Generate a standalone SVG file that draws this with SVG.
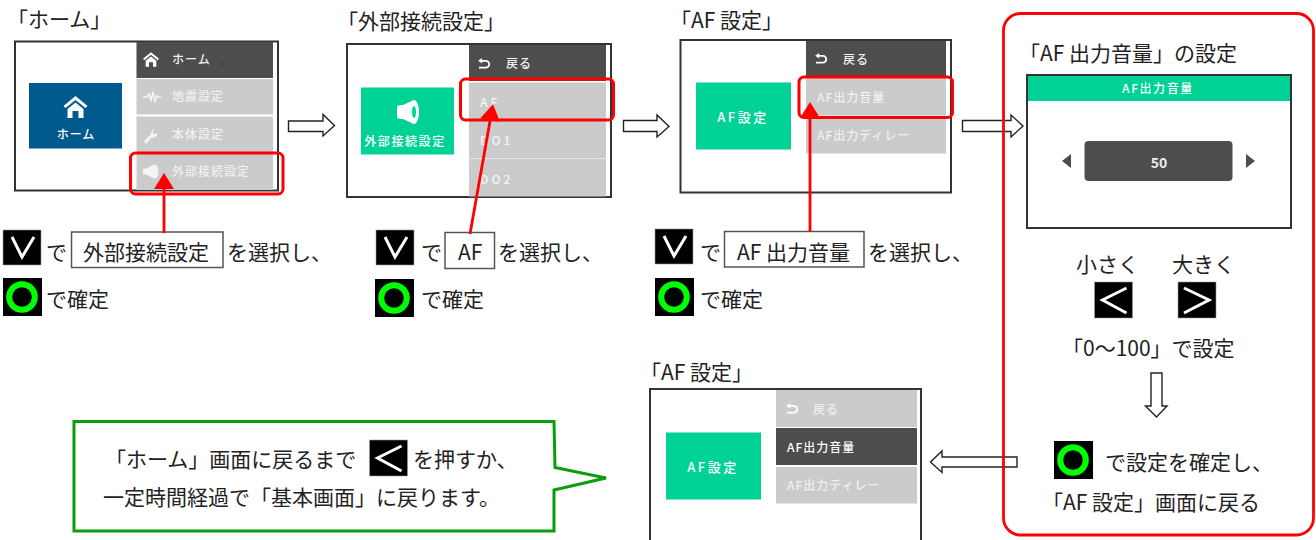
<svg xmlns="http://www.w3.org/2000/svg" width="1316" height="540" viewBox="0 0 1316 540">
<style>
text{font-family:"Noto Sans CJK JP","Noto Sans",sans-serif}
.t{font-size:21px;fill:#222}
.m{font-size:12px;letter-spacing:1px;fill:#f0f0f0;font-weight:500}
.ml{font-size:12px;letter-spacing:3px;fill:#f4f4f4;font-weight:500}
.big{font-size:13px;letter-spacing:2.500px;font-weight:500}
.c{text-anchor:middle;fill:#fff}
.scr{fill:#fff;stroke:#333;stroke-width:2}
.dk{fill:#4d4d4d}
.gr{fill:#cbcbcb}
.gn{fill:#00d296}
.sel{fill:none;stroke:#f00;stroke-width:3}
.box{fill:#fff;stroke:#555;stroke-width:1.500}
.hollow{fill:#fff;stroke:#222;stroke-width:1.400}
.red{stroke:#f00;stroke-width:2.800;fill:none}
.ch{fill:none;stroke:#fff;stroke-width:3}
</style>
<defs>
<marker id="rh" markerUnits="userSpaceOnUse" markerWidth="20" markerHeight="20" viewBox="0 0 16 20" refX="0" refY="10" orient="auto"><path d="M0 0L16 10L0 20z" fill="#f00"/></marker>
<symbol id="home" viewBox="0 0 24 22" overflow="visible"><path d="M12 0L0 10l2 2L12 4l10 8 2-2z"/><path d="M4 13L12 6.500 20 13v9h-5v-7H9v7H4z"/></symbol>
<symbol id="back" viewBox="0 0 14 12" overflow="visible"><path d="M1 10.500h7.500a3.700 3.700 0 0 0 0-7.400H3" fill="none" stroke="#fff" stroke-width="2"/><path d="M4.500 0v6L0 3z" fill="#fff"/></symbol>
<g id="kv"><rect width="38" height="35" fill="#000" stroke="#999" stroke-width=".6"/><path class="ch" d="M9 7L19 27 31 7"/></g>
<g id="kl"><rect width="38" height="36" fill="#000" stroke="#999" stroke-width=".6"/><path class="ch" d="M32 6L8 18 32 31"/></g>
<g id="kr"><rect width="38" height="36" fill="#000" stroke="#999" stroke-width=".6"/><path class="ch" d="M6 6L31 18 6 31"/></g>
<g id="ko"><rect width="39" height="38" fill="#000"/><circle cx="19" cy="19" r="12.800" fill="none" stroke="#0f0" stroke-width="6"/></g>
</defs>

<g id="screen-home">
<text class="t" x="7" y="27">「ホーム」</text>
<rect class="scr" x="15" y="41.500" width="263" height="149"/>
<rect class="dk" x="136.500" y="42" width="136.500" height="36"/>
<rect class="gr" x="136.500" y="79" width="136.500" height="35.500"/>
<rect class="gr" x="136.500" y="116.500" width="136.500" height="35.500"/>
<rect class="gr" x="136.500" y="154" width="136.500" height="36"/>
<rect x="29" y="83" width="93" height="65.500" fill="#005a8e"/>
<use href="#home" x="63" y="96" width="25" height="22" fill="#fff"/>
<text class="m c" x="76" y="139">ホーム</text>
<use href="#home" x="143" y="52" width="16" height="15" fill="#fff"/>
<text class="m" x="172" y="64">ホーム</text>
<text class="m" x="221" y="65" style="fill:#333">.</text>
<path d="M143 97h4l2-3 2 6 2-8 2 9 2-5 1 1h3" fill="none" stroke="#f4f4f4" stroke-width="1.600"/>
<text class="m" x="172" y="101">地震設定</text>
<path d="M144 139l7-7a5 5 0 0 1 2-4.500l2-.5-2.500 3 1.500 2.500 3.500-2a5 5 0 0 1-6 5l-5.500 6.500z" fill="#f4f4f4" transform="translate(0 2)"/>
<text class="m" x="172" y="139">本体設定</text>
<path d="M143 168.500h3l8-4v14l-8-4h-3z" fill="#f4f4f4"/><ellipse cx="155" cy="171.500" rx="3.500" ry="7" fill="#f4f4f4"/>
<text class="m" x="172" y="176">外部接続設定</text>
<rect class="sel" x="130.500" y="153" width="152.500" height="41" rx="5"/>
<use href="#kv" x="3" y="230"/>
<text class="t" x="46" y="260">で</text>
<rect class="box" x="71.500" y="232" width="151.500" height="35.500"/>
<text class="t" x="83" y="260">外部接続設定</text>
<text class="t" x="227" y="260">を選択し、</text>
<use href="#ko" x="3" y="278"/>
<text class="t" x="46" y="307">で確定</text>
</g>

<g id="screen-ext">
<text class="t" x="337" y="29">「外部接続設定」</text>
<rect class="scr" x="347" y="44" width="264" height="153"/>
<rect class="dk" x="469" y="45" width="137" height="36"/>
<rect class="gr" x="469" y="82.500" width="137" height="114"/>
<path d="M469 120.500h137M469 158.500h137" stroke="#e6e6e6" stroke-width="1"/>
<rect class="gn" x="361" y="87.500" width="93" height="67"/>
<path d="M397 108c0-2 1-3 3-3h3l11-5v24l-11-5h-3c-2 0-3-1-3-3z" fill="#fff"/><ellipse cx="414" cy="112" rx="5" ry="12" fill="#fff"/><ellipse cx="414" cy="112" rx="2" ry="6" fill="#00d296"/>
<text class="m c" x="405" y="146" style="letter-spacing:1.600px">外部接続設定</text>
<use href="#back" x="478" y="58" width="13" height="11"/>
<text class="m" x="506" y="68">戻る</text>
<text class="ml" x="480" y="107">AF</text>
<text class="ml" x="480" y="145">DO1</text>
<text class="ml" x="480" y="184">DO2</text>
<rect class="sel" x="460.500" y="79" width="153" height="41" rx="5"/>
<use href="#kv" x="376" y="230"/>
<text class="t" x="421" y="260">で</text>
<rect class="box" x="445" y="232.500" width="49.500" height="36"/>
<text class="t" x="458" y="260">AF</text>
<text class="t" x="498" y="260">を選択し、</text>
<use href="#ko" x="375" y="279"/>
<text class="t" x="421" y="307">で確定</text>
</g>

<g id="screen-af">
<text class="t" x="670" y="28">「AF 設定」</text>
<rect class="scr" x="680.500" y="40" width="270.500" height="152.500"/>
<rect class="dk" x="806" y="41" width="140" height="35.500"/>
<rect class="gr" x="806" y="78" width="140" height="37.500"/>
<rect class="gr" x="806" y="118.500" width="140" height="35"/>
<rect class="gn" x="696" y="82.500" width="95" height="67"/>
<text class="big c" x="743" y="122">AF設定</text>
<use href="#back" x="815" y="53" width="13" height="11"/>
<text class="m" x="843" y="64">戻る</text>
<text class="m" x="817" y="102">AF出力音量</text>
<text class="m" x="817" y="140">AF出力ディレー</text>
<rect class="sel" x="799" y="77" width="153.500" height="40.500" rx="5"/>
<use href="#kv" x="655" y="229"/>
<text class="t" x="700" y="260">で</text>
<rect class="box" x="724.500" y="231.500" width="139.500" height="35.500"/>
<text class="t" x="737" y="260">AF 出力音量</text>
<text class="t" x="868" y="260">を選択し、</text>
<use href="#ko" x="655" y="278"/>
<text class="t" x="700" y="307">で確定</text>
</g>

<g id="connectors">
<line class="red" x1="164" y1="233" x2="164" y2="189" marker-end="url(#rh)"/>
<line class="red" x1="470" y1="234" x2="490.200" y2="120" marker-end="url(#rh)"/>
<line class="red" x1="810" y1="232" x2="810" y2="118" marker-end="url(#rh)"/>
<polygon class="hollow" points="288.500,121 323,121 323,114.500 334.500,125.500 323,136 323,131.500 288.500,131.500"/>
<polygon class="hollow" points="623.500,120.500 657,120.500 657,115 669,126.500 657,137 657,131.500 623.500,131.500"/>
<polygon class="hollow" points="962.500,120.500 1011,120.500 1011,115 1023,126 1011,137 1011,131.500 962.500,131.500"/>
<polygon class="hollow" points="1151,373 1162,373 1162,406 1167,406 1156.500,417 1145.500,406 1151,406"/>
<polygon class="hollow" points="1017,457 942,457 942,451 930.500,462 942,472.500 942,467 1017,467"/>
</g>

<g id="panel-volume">
<rect x="1003.500" y="13.500" width="310" height="521.500" rx="17" fill="none" stroke="#f00" stroke-width="2.800"/>
<text class="t" x="1019" y="61">「AF 出力音量」の設定</text>
<rect class="scr" x="1027" y="75" width="264" height="153"/>
<rect class="gn" x="1028" y="76" width="262" height="25"/>
<text class="m c" x="1158" y="93" style="letter-spacing:1.600px">AF出力音量</text>
<rect x="1084.500" y="141" width="148" height="40" rx="4" class="dk"/>
<text x="1159" y="168" style="font-size:14px;font-weight:700;fill:#eee;text-anchor:middle">50</text>
<polygon class="dk" points="1071,154 1071,168 1062,161"/>
<polygon class="dk" points="1246,154 1246,168 1255,161"/>
<text class="t" x="1076" y="272">小さく</text>
<text class="t" x="1172" y="272">大きく</text>
<use href="#kl" x="1094.500" y="282"/>
<use href="#kr" x="1178" y="282"/>
<text class="t" x="1062" y="356">「0～100」で設定</text>
<use href="#ko" x="1054" y="441"/>
<text class="t" x="1105" y="470">で設定を確定し、</text>
<text class="t" x="1042" y="510">「AF 設定」画面に戻る</text>
</g>

<g id="screen-af-return">
<text class="t" x="640" y="380">「AF 設定」</text>
<rect class="scr" x="650" y="389" width="271" height="160"/>
<rect class="gr" x="776" y="390" width="141" height="37"/>
<rect class="dk" x="776" y="428" width="141" height="37"/>
<rect class="gr" x="776" y="467" width="141" height="36.500"/>
<rect class="gn" x="666" y="432.500" width="95" height="67"/>
<text class="big c" x="713" y="472">AF設定</text>
<use href="#back" x="786" y="403" width="13" height="11"/>
<text class="m" x="813" y="414">戻る</text>
<text class="m" x="787" y="452" style="fill:#fff">AF出力音量</text>
<text class="m" x="787" y="490">AF出力ディレー</text>
</g>

<g id="callout">
<polygon points="74,421.500 554,421.500 555,467.500 606,478 554,490 554,531 74,531" fill="#fff" stroke="#0a9e0a" stroke-width="3"/>
<text class="t" x="105" y="467">「ホーム」画面に戻るまで</text>
<use href="#kl" x="369.500" y="440"/>
<text class="t" x="413" y="467">を押すか、</text>
<text class="t" x="103" y="505">一定時間経過で「基本画面」に戻ります。</text>
</g>
</svg>
